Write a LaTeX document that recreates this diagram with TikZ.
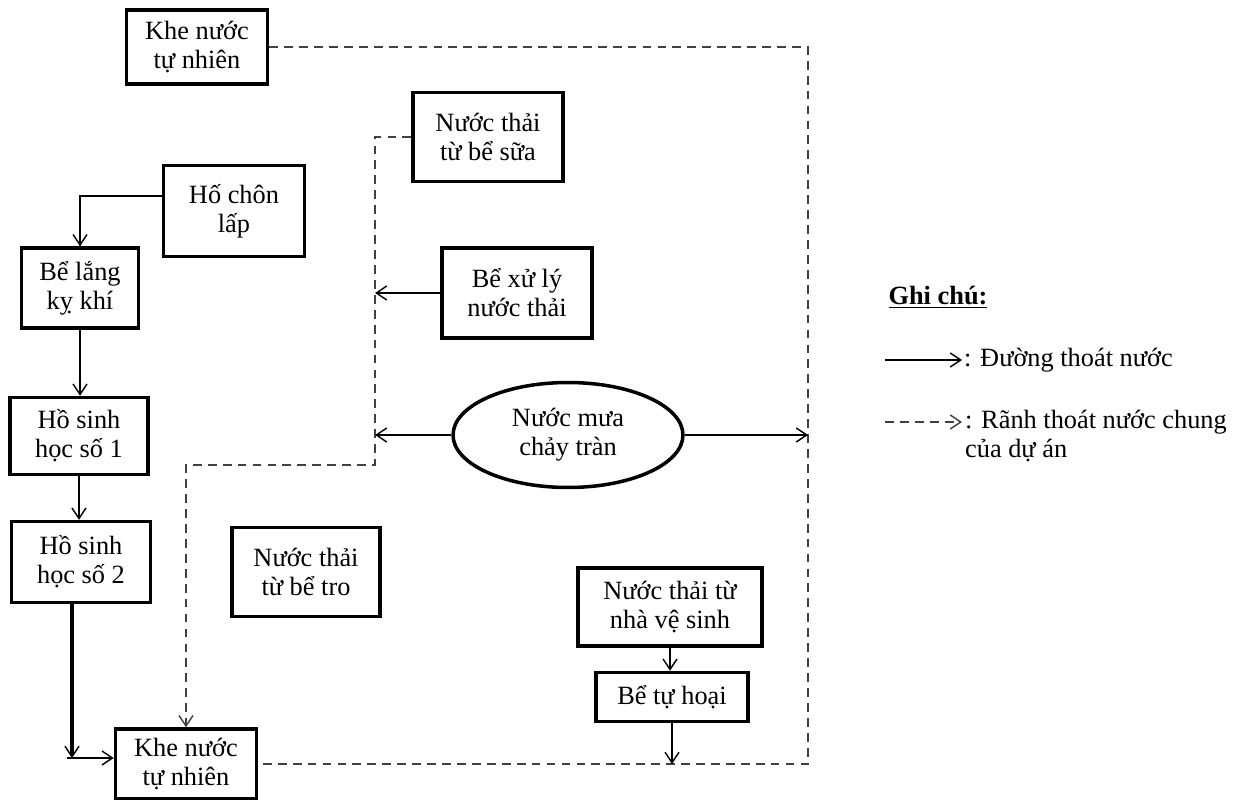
\documentclass[tikz,border=0pt]{standalone}
\usepackage{fontspec}
\setmainfont{Liberation Serif}
\usetikzlibrary{arrows.meta,shapes.geometric}

\begin{document}
\begin{tikzpicture}[x=0.02cm,y=-0.02cm,
  box/.style={draw, line width=2pt, align=center, font=\fontsize{15}{16.5}\selectfont},
  flow/.style={line width=0.8pt, -{Straight Barb[length=6pt,width=8pt]}},
  drain/.style={black!75, line width=1.1pt, dash pattern=on 5pt off 3.5pt},
  legtext/.style={font=\fontsize{15}{16.5}\selectfont, inner sep=1pt}]
\useasboundingbox (0,0) rectangle (1240,800);
% left column:
\node[box, minimum width=2.82cm, minimum height=1.48cm] (khetop) at (197,47) {Khe nước\\tự nhiên};
\node[box, minimum width=2.82cm, minimum height=1.82cm] (hochon) at (234,211) {Hố chôn\\lấp};
\node[box, minimum width=2.34cm, minimum height=1.6cm] (belang) at (80,288) {Bể lắng\\kỵ khí};
\node[box, minimum width=2.76cm, minimum height=1.54cm] (hs1) at (79,436) {Hồ sinh\\học số 1};
\node[box, minimum width=2.78cm, minimum height=1.62cm] (hs2) at (81,562) {Hồ sinh\\học số 2};
\node[box, minimum width=2.96cm, minimum height=1.78cm] (betro) at (306,572) {Nước thải\\từ bể tro};
\node[box, minimum width=2.82cm, minimum height=1.4cm] (kheb) at (186,764) {Khe nước\\tự nhiên};
% middle column:
\node[box, minimum width=3.0cm, minimum height=1.78cm] (besua) at (488,137) {Nước thải\\từ bể sữa};
\node[box, minimum width=3.0cm, minimum height=1.8cm] (xuly) at (517,293) {Bể xử lý\\nước thải};
\node[box, ellipse, minimum width=4.6cm, minimum height=2.1cm] (mua) at (568,435) {Nước mưa\\chảy tràn};
\node[box, minimum width=3.68cm, minimum height=1.56cm] (nvs) at (670,607) {Nước thải từ\\nhà vệ sinh};
\node[box, minimum width=3.04cm, minimum height=0.98cm] (tuhoai) at (672,697) {Bể tự hoại};
% drain corners:
\coordinate (br) at (808,764);
\coordinate (lc) at (375,465);
\coordinate (jn) at (72,758);
% common drain:
\draw[drain] (khetop.east) -| (br) -- (kheb.east);
\draw[drain, -{Straight Barb[length=6pt,width=8pt,line width=0.8pt]}] (besua.west) -| (lc) -| (kheb.north);
% drainage lines:
\draw[line width=0.8pt] ([yshift=0.3cm]hochon.west) -| (belang.north) coordinate (bn);
\draw[flow] ([yshift=0.9cm]bn) -- (bn);
\draw[flow] (belang.south) -- (belang.south |- hs1.north);
\draw[flow] (hs1.south) -- (hs1.south |- hs2.north);
\draw[line width=1.8pt, -{Straight Barb[length=6pt,width=8pt,line width=0.8pt]}] (hs2.south -| jn) -- (jn);
\draw[flow] ([xshift=-0.1cm]jn) -- (jn -| kheb.west);
\draw[flow] (xuly.west) -- (xuly.west -| lc);
\draw[flow] (mua.west) -- (mua.west -| lc);
\draw[flow] (mua.east) -- (mua.east -| br);
\draw[flow] (nvs.south) -- (nvs.south |- tuhoai.north);
\draw[flow] (tuhoai.south) -- (tuhoai.south |- br);
% legend:
\node[legtext, font=\fontsize{15}{16.5}\selectfont\bfseries] (ghichu) at (938,297) {\underline{Ghi chú:}};
\coordinate (l1a) at (885,360); \coordinate (l1b) at (962,360);
\draw[flow] (l1a) -- (l1b);
\node[legtext, anchor=west] (l1t) at (l1b) {: Đường thoát nước};
\coordinate (l2a) at (885,422); \coordinate (l2b) at (962,422);
\draw[drain, -{Straight Barb[length=6pt,width=8pt,line width=0.8pt]}] (l2a) -- (l2b);
\node[legtext, anchor=west, align=left] (l2t) at (963,436) {: Rãnh thoát nước chung\\của dự án};
\end{tikzpicture}
\end{document}
